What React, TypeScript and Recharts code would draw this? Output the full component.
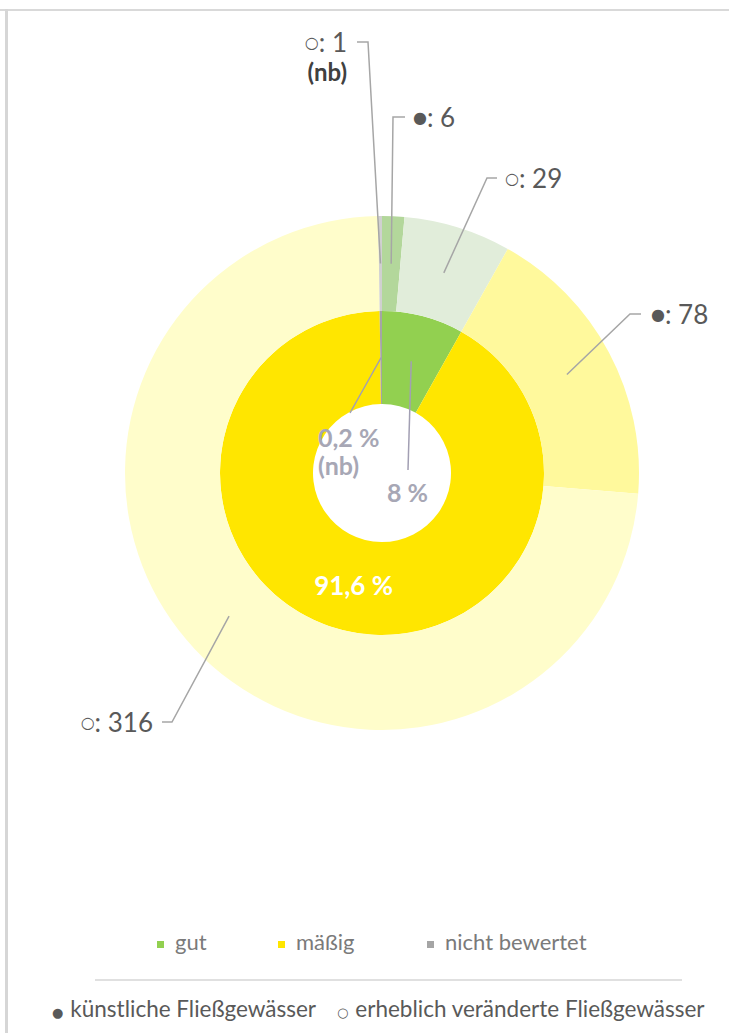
import React from 'react';
import { PieChart, Pie, Cell } from 'recharts';

// inner ring: Zustand (Anzahl Wasserkörper)
const statusNames = ['gut', 'mäßig', 'nicht bewertet'];
const statusValues = [35, 394, 1];
const statusLabels = [['8 %'], ['91,6 %'], ['0,2 %', '(nb)']];
const statusColors = ['#92D050', '#FFE600', '#A5A5A5'];

// outer ring: künstlich (●) / erheblich verändert (○)
const typeMarks = ['●', '○', '●', '○', '○'];
const typeValues = [6, 29, 78, 316, 1];
const typeNotes = ['', '', '', '', '(nb)'];
const typeColors = ['#B3D79B', '#E1EDDA', '#FFF99C', '#FFFDCB', '#D0D0D0'];

const legendTypes = ['künstliche Fließgewässer', 'erheblich veränderte Fließgewässer'];
const legendMarks = ['●', '○'];

const innerData = statusNames.map((name, i) => ({ name, value: statusValues[i] }));
const outerData = typeValues.map((value, i) => ({ name: typeMarks[i] + value, value }));

// leader line elbows + text anchors (layout only)
const outerLayout = [
  { ex: 393, ey: 117, hx: 405, tx: 413, anchor: 'start' },
  { ex: 487, ey: 178, hx: 497, tx: 505, anchor: 'start' },
  { ex: 630, ey: 314, hx: 641, tx: 651, anchor: 'start' },
  { ex: 172, ey: 722, hx: 162, tx: 153, anchor: 'end' },
  { ex: 368, ey: 42, hx: 357, tx: 347, anchor: 'end' },
];
const innerLayout = [
  { ex: 408, ey: 470, tx: 387, ty: 492, anchor: 'start' },
  null,
  { ex: 350, ey: 413, tx: 318, ty: 437, anchor: 'start' },
];

const RADIAN = Math.PI / 180;
const FONT = 'Lato, "Open Sans", sans-serif';
const LINE = '#A6A6A6';

const outerLabel = (props: any) => {
  const { cx, cy, midAngle, innerRadius, outerRadius, index } = props;
  const r = (innerRadius + outerRadius) / 2;
  const sx = cx + r * Math.cos(-midAngle * RADIAN);
  const sy = cy + r * Math.sin(-midAngle * RADIAN);
  const l = outerLayout[index];
  return (
    <g key={'ol' + index}>
      <polyline
        points={`${sx},${sy} ${l.ex},${l.ey} ${l.hx},${l.ey}`}
        stroke={LINE}
        strokeWidth={1.5}
        fill="none"
      />
      <text
        x={l.tx}
        y={l.ey}
        textAnchor={l.anchor}
        dominantBaseline="central"
        fill="#595959"
        fontFamily={FONT}
        fontSize={26}
      >
        <tspan fontSize={16} fontFamily="DejaVu Sans">{typeMarks[index]}</tspan>
        <tspan>{': ' + typeValues[index]}</tspan>
      </text>
      {typeNotes[index] && (
        <text
          x={l.tx}
          y={l.ey + 29}
          textAnchor={l.anchor}
          dominantBaseline="central"
          fill="#404040"
          fontFamily={FONT}
          fontWeight={700}
          fontSize={24}
        >
          {typeNotes[index]}
        </text>
      )}
    </g>
  );
};

const innerLabel = (props: any) => {
  const { cx, cy, midAngle, innerRadius, outerRadius, index } = props;
  const r = (innerRadius + outerRadius) / 2;
  const sx = cx + r * Math.cos(-midAngle * RADIAN);
  const sy = cy + r * Math.sin(-midAngle * RADIAN);
  const l = innerLayout[index];
  if (!l) {
    return (
      <text
        key={'il' + index}
        x={sx}
        y={sy}
        textAnchor="middle"
        dominantBaseline="central"
        fill="#FFFFFF"
        fontFamily={FONT}
        fontWeight={700}
        fontSize={26}
      >
        {statusLabels[index][0]}
      </text>
    );
  }
  return (
    <g key={'il' + index}>
      <line x1={sx} y1={sy} x2={l.ex} y2={l.ey} stroke="#A29FB3" strokeWidth={1.5} />
      {statusLabels[index].map((t, k) => (
        <text
          key={k}
          x={l.tx}
          y={l.ty + k * 28}
          textAnchor={l.anchor}
          dominantBaseline="central"
          fill="#A7A7B5"
          fontFamily={FONT}
          fontWeight={700}
          fontSize={25}
        >
          {t}
        </text>
      ))}
    </g>
  );
};

export default function App() {
  return (
    <div style={{ position: 'absolute', left: 0, top: 0, width: 729, height: 1033, background: '#fff' }}>
      <div style={{ position: 'absolute', left: 0, top: 0 }}>
        <PieChart width={729} height={900}>
          <Pie
            data={innerData}
            dataKey="value"
            cx={377}
            cy={468}
            innerRadius={69}
            outerRadius={162}
            startAngle={90}
            endAngle={-270}
            stroke="none"
            label={innerLabel}
            labelLine={false}
            isAnimationActive={false}
          >
            {innerData.map((d, i) => (
              <Cell key={d.name} fill={statusColors[i]} />
            ))}
          </Pie>
          <Pie
            data={outerData}
            dataKey="value"
            cx={377}
            cy={468}
            innerRadius={162}
            outerRadius={257}
            startAngle={90}
            endAngle={-270}
            stroke="none"
            label={outerLabel}
            labelLine={false}
            isAnimationActive={false}
          >
            {outerData.map((d, i) => (
              <Cell key={i} fill={typeColors[i]} />
            ))}
          </Pie>
        </PieChart>
      </div>
      {/* frame */}
      <div style={{ position: 'absolute', left: 0, top: 9, width: 729, height: 2, background: '#D9D9D9', zIndex: 2 }} />
      <div style={{ position: 'absolute', left: 5, top: 9, width: 3, height: 1024, background: '#D6D6D6', zIndex: 2 }} />
      {/* legend: Zustand */}
      <div
        style={{
          position: 'absolute',
          top: 928,
          left: 0,
          width: 729,
          fontFamily: FONT,
          fontSize: 22,
          color: '#7A7A7A',
        }}
      >
        {statusNames.map((n, i) => (
          <span
            key={n}
            style={{ position: 'absolute', left: [157, 278, 427][i], whiteSpace: 'nowrap', lineHeight: '28px' }}
          >
            <span
              style={{
                display: 'inline-block',
                width: 7,
                height: 7,
                background: statusColors[i],
                marginRight: 11,
                verticalAlign: 'middle',
              }}
            />
            {n}
          </span>
        ))}
      </div>
      <div style={{ position: 'absolute', top: 979, left: 95, width: 587, height: 2, background: '#E0E0E0' }} />
      {/* legend: Gewässertyp */}
      <div
        style={{
          position: 'absolute',
          top: 995,
          left: 0,
          width: 729,
          fontFamily: FONT,
          fontSize: 22.5,
          color: '#595959',
        }}
      >
        {legendTypes.map((n, i) => (
          <span key={n} style={{ position: 'absolute', left: [52, 337][i], whiteSpace: 'nowrap', lineHeight: '28px' }}>
            <span style={{ fontFamily: 'DejaVu Sans', fontSize: 13, marginRight: 7 }}>{legendMarks[i]}</span>
            {n}
          </span>
        ))}
      </div>
    </div>
  );
}
